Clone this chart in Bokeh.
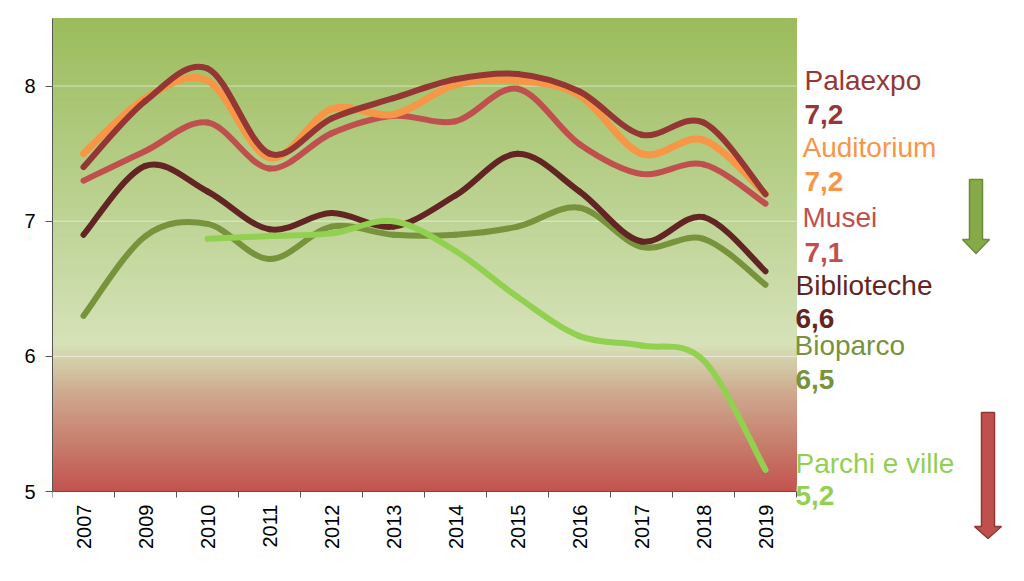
import math
from bokeh.plotting import figure
from bokeh.models import Range1d, FixedTicker
from bokeh.core.properties import value
from bokeh.embed import file_html
from bokeh.resources import INLINE

years = ["2007", "2009", "2010", "2011", "2012", "2013", "2014", "2015", "2016", "2017", "2018", "2019"]

palaexpo = [7.40, 7.89, 8.13, 7.50, 7.76, 7.91, 8.05, 8.09, 7.96, 7.64, 7.73, 7.20]
auditorium = [7.50, 7.91, 8.04, 7.47, 7.83, 7.79, 8.01, 8.04, 7.93, 7.50, 7.60, 7.20]
musei = [7.30, 7.52, 7.73, 7.39, 7.65, 7.78, 7.74, 7.98, 7.57, 7.35, 7.42, 7.13]
biblioteche = [6.90, 7.41, 7.22, 6.94, 7.06, 6.96, 7.19, 7.50, 7.22, 6.85, 7.03, 6.63]
bioparco = [6.30, 6.89, 6.98, 6.72, 6.96, 6.90, 6.90, 6.96, 7.10, 6.81, 6.87, 6.53]
parchi = [None, None, 6.87, 6.89, 6.91, 7.00, 6.78, 6.44, 6.15, 6.08, 5.97, 5.16]
y_ticks = [5, 6, 7, 8]

series_names = ["Palaexpo", "Auditorium", "Musei", "Biblioteche", "Bioparco", "Parchi e ville"]
final_labels = ["7,2", "7,2", "7,1", "6,6", "6,5", "5,2"]

colors = {
    "Palaexpo": "#943634",
    "Auditorium": "#F79646",
    "Musei": "#C0504D",
    "Biblioteche": "#632523",
    "Bioparco": "#77933C",
    "Parchi e ville": "#92D050",
}
text_colors = {
    "Palaexpo": "#953735",
    "Auditorium": "#F79646",
    "Musei": "#C0504D",
    "Biblioteche": "#632523",
    "Bioparco": "#77933C",
    "Parchi e ville": "#92D050",
}

YMIN, YMAX = 5, 8.5
N = len(years)

# layout geometry (pixels)
W, H = 1024, 565
LEFT, TOP = 52, 18
AX_RIGHT, AX_BOTTOM = 796, 491
KX = (AX_RIGHT - LEFT) / N
KY = (AX_BOTTOM - TOP) / (YMAX - YMIN)
x_end = N + (W - AX_RIGHT) / KX
y_start = YMIN - (H - AX_BOTTOM) / KY

def dx(px):
    return (px - LEFT) / KX
def dy(py):
    return YMAX - (py - TOP) / KY

p = figure(width=W, height=H, output_backend="svg", toolbar_location=None,
           x_range=Range1d(0, x_end), y_range=Range1d(y_start, YMAX),
           min_border_left=LEFT, min_border_right=0, min_border_top=TOP, min_border_bottom=0)
p.outline_line_color = None
p.background_fill_color = "white"
p.border_fill_color = "white"
p.grid.visible = False

# background gradient (style only): stacked bands, each reaching the top, so no gaps
stops = [(5.0, (195, 82, 78)), (5.35, (199, 125, 108)), (5.7, (206, 166, 140)),
         (6.1, (214, 226, 184)), (7.0, (190, 212, 150)), (8.5, (155, 188, 92))]
def grad(v):
    for (a, ca), (b, cb) in zip(stops[:-1], stops[1:]):
        if a <= v <= b:
            t = (v - a) / (b - a)
            return "#%02x%02x%02x" % tuple(int(round(ca[i] + (cb[i] - ca[i]) * t)) for i in range(3))
    return "#%02x%02x%02x" % stops[-1][1]
nb = 175
step = (YMAX - YMIN) / nb
bottoms = [YMIN + i * step for i in range(nb)]
p.quad(left=0, right=N, bottom=bottoms, top=YMAX,
       fill_color=[grad(b + step / 2) for b in bottoms], line_color=None)

# horizontal gridlines at the y ticks, limited to the chart area
gy = [t for t in y_ticks if t > YMIN]
p.segment(x0=[0] * len(gy), x1=[N] * len(gy), y0=gy, y1=gy,
          line_color="white", line_alpha=0.55, line_width=1)

# smooth curves (Catmull-Rom -> cubic bezier, through the data points)
def add_smooth(vals, color, width):
    pts = [(i + 0.5, v) for i, v in enumerate(vals) if v is not None]
    n = len(pts)
    x0, y0, x1, y1, cx0, cy0, cx1, cy1 = [], [], [], [], [], [], [], []
    for i in range(n - 1):
        p0 = pts[i - 1] if i > 0 else pts[i]
        p1 = pts[i]
        p2 = pts[i + 1]
        p3 = pts[i + 2] if i + 2 < n else pts[i + 1]
        x0.append(p1[0]); y0.append(p1[1])
        x1.append(p2[0]); y1.append(p2[1])
        cx0.append(p1[0] + (p2[0] - p0[0]) / 6); cy0.append(p1[1] + (p2[1] - p0[1]) / 6)
        cx1.append(p2[0] - (p3[0] - p1[0]) / 6); cy1.append(p2[1] - (p3[1] - p1[1]) / 6)
    p.bezier(x0=x0, y0=y0, x1=x1, y1=y1, cx0=cx0, cy0=cy0, cx1=cx1, cy1=cy1,
             line_color=color, line_width=width, line_cap="round")

data = {"Palaexpo": palaexpo, "Auditorium": auditorium, "Musei": musei,
        "Biblioteche": biblioteche, "Bioparco": bioparco, "Parchi e ville": parchi}
for name in ["Bioparco", "Biblioteche", "Musei", "Auditorium", "Palaexpo", "Parchi e ville"]:
    add_smooth(data[name], colors[name], 7 if name == "Auditorium" else 6)

# axes
xa = p.xaxis[0]
xa.fixed_location = YMIN
xa.bounds = (0, N)
xa.ticker = FixedTicker(ticks=[i + 0.5 for i in range(N)], minor_ticks=list(range(N + 1)))
xa.major_label_overrides = {i + 0.5: y for i, y in enumerate(years)}
xa.major_label_orientation = math.pi / 2
xa.major_tick_line_color = None
xa.major_tick_in = 0
xa.major_tick_out = 6
xa.minor_tick_in = 0
xa.minor_tick_out = 6
xa.minor_tick_line_color = "#555555"
xa.axis_line_color = "#555555"
xa.major_label_standoff = 7
xa.major_label_text_font = "Liberation Sans"
xa.major_label_text_font_size = "20px"
xa.major_label_text_color = "black"

ya = p.yaxis[0]
ya.bounds = (YMIN, YMAX)
ya.ticker = FixedTicker(ticks=y_ticks, minor_ticks=[])
ya.axis_line_color = "#555555"
ya.major_tick_line_color = "#555555"
ya.major_tick_in = 0
ya.major_tick_out = 7
ya.minor_tick_line_color = None
ya.major_label_standoff = 10
ya.major_label_text_font = "Liberation Sans"
ya.major_label_text_font_size = "20px"
ya.major_label_text_color = "black"

# end labels (positions in pixels of the layout)
label_pos = [(804, 80, 804, 114), (802, 147, 804, 181), (802, 217, 804, 252),
             (795, 285, 795, 318), (794, 345, 795, 379), (795, 463, 795, 495)]
for name, val, (nx, ny, vx, vy) in zip(series_names, final_labels, label_pos):
    p.text(x=[dx(nx)], y=[dy(ny)], text=[name], text_color=text_colors[name],
           text_font=value("Liberation Sans"), text_font_size="28px",
           text_baseline="alphabetic", text_align="left")
    p.text(x=[dx(vx)], y=[dy(vy)], text=[val], text_color=text_colors[name],
           text_font=value("Liberation Sans"), text_font_size="28px", text_font_style="bold",
           text_baseline="alphabetic", text_align="left")

def arrow(xl, xr, hl, hr, top, hs, tip, fill, line):
    xs = [xl, xr, xr, hr, (hl + hr) / 2, hl, xl]
    ys = [top, top, hs, hs, tip, hs, hs]
    p.patch(x=[dx(v) for v in xs], y=[dy(v) for v in ys],
            fill_color=fill, line_color=line, line_width=1.5)

arrow(969, 982, 962, 989, 179, 239, 253, "#86AA47", "#6B8B36")
arrow(981, 994, 974, 1001, 412, 526, 538, "#C0504D", "#8C3836")

open("out.html", "w").write(file_html(p, INLINE))
